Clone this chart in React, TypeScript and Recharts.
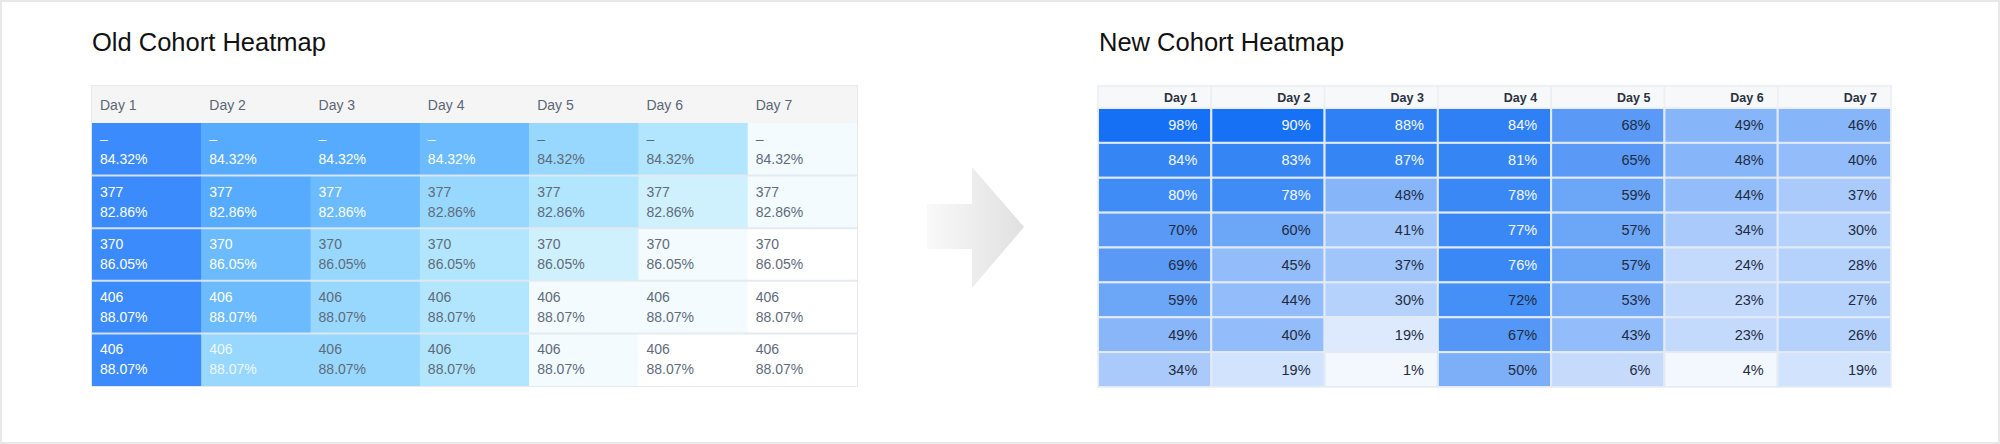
import React from 'react';
import { ScatterChart, Scatter, XAxis, YAxis } from 'recharts';

// ---------- data ----------
const DAYS = ['Day 1', 'Day 2', 'Day 3', 'Day 4', 'Day 5', 'Day 6', 'Day 7'];

const OLD_COUNTS = ['–', '377', '370', '406', '406'];
const OLD_RATES = ['84.32%', '82.86%', '86.05%', '88.07%', '88.07%'];
// colour intensity level per cell (0 = darkest, 7 = white)
const OLD_LEVELS = [
  [0, 1, 1, 2, 3, 4, 6],
  [0, 1, 2, 3, 4, 5, 6],
  [0, 2, 3, 4, 5, 6, 7],
  [0, 2, 3, 4, 6, 6, 7],
  [0, 3, 3, 4, 6, 7, 7],
];
const OLD_LIGHT_TEXT = [
  [1, 1, 1, 1, 0, 0, 0],
  [1, 1, 1, 0, 0, 0, 0],
  [1, 1, 0, 0, 0, 0, 0],
  [1, 1, 0, 0, 0, 0, 0],
  [1, 1, 0, 0, 0, 0, 0],
];

const NEW_VALUES = [
  [98, 90, 88, 84, 68, 49, 46],
  [84, 83, 87, 81, 65, 48, 40],
  [80, 78, 48, 78, 59, 44, 37],
  [70, 60, 41, 77, 57, 34, 30],
  [69, 45, 37, 76, 57, 24, 28],
  [59, 44, 30, 72, 53, 23, 27],
  [49, 40, 19, 67, 43, 23, 26],
  [34, 19, 1, 50, 6, 4, 19],
];

// ---------- styles ----------
const OLD_PALETTE = ['#3b8bfd', '#57abff', '#6bbbfe', '#98d8fe', '#b2e5fe', '#cff1fe', '#f3fbff', '#ffffff'];
const NEW_COLORS = [
  ['#1570f5', '#1771f5', '#2f80f5', '#2f80f5', '#5a9af6', '#86b5f9', '#86b5f9'],
  ['#3585f5', '#3585f5', '#3585f5', '#3585f5', '#5a9af6', '#86b5f9', '#92bdfa'],
  ['#408cf6', '#408cf6', '#86b5f9', '#3a88f5', '#6ca6f7', '#92bdfa', '#a9cafb'],
  ['#5a9af6', '#6ca6f7', '#a0c5fb', '#3a88f5', '#6ca6f7', '#a9cafb', '#b5d2fc'],
  ['#5a9af6', '#92bdfa', '#a0c5fb', '#3a88f5', '#6ca6f7', '#c4dafc', '#b5d2fc'],
  ['#6ca6f7', '#92bdfa', '#b5d2fc', '#4590f6', '#7aaef8', '#c4dafc', '#b5d2fc'],
  ['#88b6f9', '#92bdfa', '#ddeafd', '#5597f6', '#92bdfa', '#c4dafc', '#b5d2fc'],
  ['#a9cafb', '#d1e3fd', '#f3f7fe', '#7daef8', '#c6dbfc', '#f3f7fe', '#d1e3fd'],
];

const FONT = '"Liberation Sans", Arial, Helvetica, sans-serif';

const OLD_W = 765;
const OLD_H = 300;
const OLD_HEAD = 37;
const NEW_W = 793;
const NEW_H = 301;
const NEW_HEAD = 22;

const colTicks = DAYS.map((_, i) => i + 0.5);

const oldCells = OLD_LEVELS.flatMap((row, r) =>
  row.map((lvl, c) => ({
    x: c + 0.5,
    y: r + 0.5,
    r,
    c,
    lvl,
    count: OLD_COUNTS[r],
    rate: OLD_RATES[r],
  }))
);

const newCells = NEW_VALUES.flatMap((row, r) =>
  row.map((v, c) => ({ x: c + 0.5, y: r + 0.5, r, c, v }))
);

const oldCw = OLD_W / DAYS.length;
const oldRh = (OLD_H - OLD_HEAD) / OLD_COUNTS.length;
const newCw = NEW_W / DAYS.length;
const newRh = (NEW_H - NEW_HEAD) / NEW_VALUES.length;

const OldHeaderTick = (props: any) => {
  const { x, payload } = props;
  const i = Math.floor(payload.value);
  const left = x - oldCw / 2;
  return (
    <g>
      <rect x={left} y={0} width={oldCw + 0.5} height={OLD_HEAD} fill="#f5f5f5" />
      <text x={left + 8} y={24} fontSize={14} fill="#5b6676" fontFamily={FONT}>
        {DAYS[i]}
      </text>
    </g>
  );
};

const NewHeaderTick = (props: any) => {
  const { x, payload } = props;
  const i = Math.floor(payload.value);
  const left = x - newCw / 2;
  return (
    <g>
      <rect x={left} y={0} width={newCw} height={NEW_HEAD} fill="#f7f8fa" stroke="#eceef3" strokeWidth={1.5} />
      <text
        x={left + newCw - 14}
        y={15.5}
        fontSize={12.5}
        fontWeight={600}
        textAnchor="end"
        fill="#2a3242"
        fontFamily={FONT}
      >
        {DAYS[i]}
      </text>
    </g>
  );
};

const renderOldCell = (props: any) => {
  const { cx, cy, payload } = props;
  const left = cx - oldCw / 2;
  const top = cy - oldRh / 2;
  const light = OLD_LIGHT_TEXT[payload.r][payload.c] === 1;
  const faded = light && payload.lvl >= 3;
  const color = light ? (faded ? 'rgba(255,255,255,0.85)' : '#ffffff') : '#5f6b7b';
  return (
    <g>
      <rect x={left} y={top} width={oldCw + 0.5} height={oldRh} fill={OLD_PALETTE[payload.lvl]} />
      {payload.r > 0 && (
        <line x1={left} x2={left + oldCw + 0.5} y1={top} y2={top} stroke="rgba(226,232,238,0.9)" strokeWidth={2} />
      )}
      <text x={left + 8} y={top + 21} fontSize={14} fill={color} fontFamily={FONT}>
        {payload.count}
      </text>
      <text x={left + 8} y={top + 41} fontSize={14} fill={color} fontFamily={FONT}>
        {payload.rate}
      </text>
    </g>
  );
};

const renderNewCell = (props: any) => {
  const { cx, cy, payload } = props;
  const left = cx - newCw / 2;
  const top = cy - newRh / 2;
  const white = payload.v >= 75;
  return (
    <g>
      <rect
        x={left}
        y={top}
        width={newCw}
        height={newRh}
        fill={NEW_COLORS[payload.r][payload.c]}
        stroke="#e2eaf6"
        strokeWidth={2}
      />
      <text
        x={left + newCw - 14}
        y={cy + 5}
        fontSize={14.5}
        textAnchor="end"
        fill={white ? '#f6f9ff' : '#1f2b44'}
        fontFamily={FONT}
      >
        {payload.v + '%'}
      </text>
    </g>
  );
};

export default function App() {
  return (
    <div
      style={{
        position: 'absolute',
        left: 0,
        top: 0,
        width: 2000,
        height: 444,
        boxSizing: 'border-box',
        border: '2px solid #e8e8e8',
        background: '#ffffff',
        fontFamily: FONT,
        overflow: 'hidden',
      }}
    >
      <svg
        width={2000}
        height={444}
        style={{ position: 'absolute', left: -2, top: -2 }}
      >
        <defs>
          <linearGradient id="arrowGrad" x1="0" y1="0" x2="1" y2="0">
            <stop offset="0%" stopColor="#f9f9f9" />
            <stop offset="100%" stopColor="#e0e0e0" />
          </linearGradient>
        </defs>
        <text x={92} y={51} fontSize={25.5} fill="#111" fontFamily={FONT}>
          Old Cohort Heatmap
        </text>
        <text x={1099} y={51} fontSize={25.5} fill="#111" fontFamily={FONT}>
          New Cohort Heatmap
        </text>
        <polygon
          points="927,204 972,204 972,167 1024,227 972,288 972,249 927,249"
          fill="url(#arrowGrad)"
        />
      </svg>

      <div
        style={{
          position: 'absolute',
          left: 90,
          top: 84,
          width: OLD_W,
          height: OLD_H,
          outline: '1px solid #e9e9e9',
        }}
      >
        <ScatterChart width={OLD_W} height={OLD_H} margin={{ top: 0, right: 0, bottom: 0, left: 0 }}>
          <XAxis
            type="number"
            dataKey="x"
            domain={[0, DAYS.length]}
            orientation="top"
            height={OLD_HEAD}
            ticks={colTicks}
            interval={0}
            axisLine={false}
            tickLine={false}
            tick={<OldHeaderTick />}
          />
          <YAxis type="number" dataKey="y" domain={[0, OLD_COUNTS.length]} reversed hide />
          <Scatter data={oldCells} shape={renderOldCell} isAnimationActive={false} />
        </ScatterChart>
      </div>

      <div
        style={{
          position: 'absolute',
          left: 1096,
          top: 84,
          width: NEW_W,
          height: NEW_H,
          outline: '1px solid #eef0f4',
        }}
      >
        <ScatterChart width={NEW_W} height={NEW_H} margin={{ top: 0, right: 0, bottom: 0, left: 0 }}>
          <XAxis
            type="number"
            dataKey="x"
            domain={[0, DAYS.length]}
            orientation="top"
            height={NEW_HEAD}
            ticks={colTicks}
            interval={0}
            axisLine={false}
            tickLine={false}
            tick={<NewHeaderTick />}
          />
          <YAxis type="number" dataKey="y" domain={[0, NEW_VALUES.length]} reversed hide />
          <Scatter data={newCells} shape={renderNewCell} isAnimationActive={false} />
        </ScatterChart>
      </div>
    </div>
  );
}
